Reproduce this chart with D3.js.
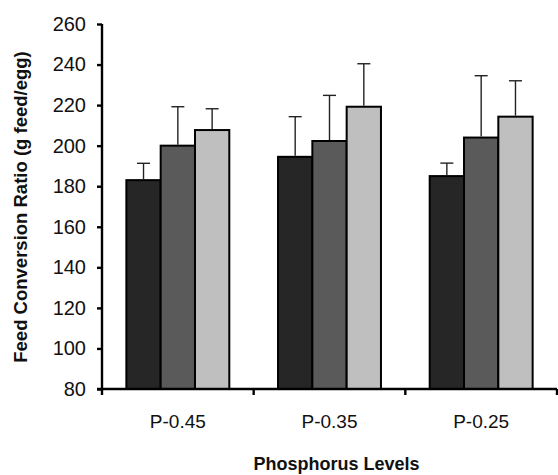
<!DOCTYPE html>
<html>
<head>
<meta charset="utf-8">
<script src="https://cdn.jsdelivr.net/npm/d3@7"></script>
<style>
  body { margin: 0; background: #fff; }
  text { font-family: "Liberation Sans", Arial, sans-serif; }
</style>
</head>
<body>
<svg id="chart"></svg>
<script>
// data
const levels = ["P-0.45", "P-0.35", "P-0.25"];
const groups = ["A", "B", "C"];
const meansA = [183, 194.5, 185];
const meansB = [200, 202.3, 204];
const meansC = [207.7, 219.2, 214.3];
const errA = [8.3, 19.8, 6.4];
const errB = [19.2, 22.5, 30.5];
const errC = [10.5, 21.2, 17.7];
const yTicks = [80, 100, 120, 140, 160, 180, 200, 220, 240, 260];

const width = 558;
const height = 475;
const colors = { A: "#262626", B: "#5a5a5a", C: "#bfbfbf" };

const svg = d3.select("#chart")
    .attr("width", width)
    .attr("height", height);

const plotLeft = 102, plotRight = 557, plotTop = 24, plotBottom = 389;

const means = { A: meansA, B: meansB, C: meansC };
const errs = { A: errA, B: errB, C: errC };

const rows = [];
levels.forEach((lv, i) => {
    groups.forEach(g => rows.push({ level: lv, group: g, value: means[g][i], err: errs[g][i] }));
});

const x0 = d3.scaleBand().domain(levels).range([plotLeft, plotRight]).padding(0);
const x1 = d3.scaleBand().domain(groups).range([0, x0.bandwidth()])
    .paddingInner(0).paddingOuter(0.71);
const y = d3.scaleLinear().domain([80, 260]).range([plotBottom, plotTop]);

// bars
svg.append("g").selectAll("rect")
    .data(rows)
    .enter()
    .append("rect")
    .attr("x", d => x0(d.level) + x1(d.group))
    .attr("y", d => y(d.value))
    .attr("width", x1.bandwidth())
    .attr("height", d => plotBottom - y(d.value))
    .attr("fill", d => colors[d.group])
    .attr("stroke", "#000")
    .attr("stroke-width", 2);

// error bars (upper only)
const eb = svg.append("g").attr("stroke", "#222").attr("stroke-width", 1.4);
rows.forEach(d => {
    const cx = x0(d.level) + x1(d.group) + x1.bandwidth() / 2;
    eb.append("line")
        .attr("x1", cx).attr("x2", cx)
        .attr("y1", y(d.value) - 1).attr("y2", y(d.value + d.err));
    eb.append("line")
        .attr("x1", cx - 6.5).attr("x2", cx + 6.5)
        .attr("y1", y(d.value + d.err)).attr("y2", y(d.value + d.err));
});

// y axis
const yAxis = svg.append("g")
    .attr("transform", `translate(${plotLeft},0)`)
    .call(d3.axisLeft(y).tickValues(yTicks).tickSize(5).tickPadding(11));
yAxis.select(".domain").attr("stroke", "#000").attr("stroke-width", 2.4)
    .attr("d", `M0,${plotTop}V${plotBottom}`);
yAxis.selectAll(".tick line").attr("stroke", "#000").attr("stroke-width", 2.4);
yAxis.selectAll(".tick text").attr("font-size", "20px").attr("fill", "#111")
    .attr("font-family", "Liberation Sans, Arial, sans-serif");

// x axis
const xAxis = svg.append("g")
    .attr("transform", `translate(0,${plotBottom})`)
    .call(d3.axisBottom(x0).tickSize(0).tickPadding(26));
xAxis.select(".domain").attr("stroke", "#000").attr("stroke-width", 2.4)
    .attr("d", `M${plotLeft - 5},0H${plotRight}`);
xAxis.selectAll(".tick text").attr("font-size", "19px").attr("fill", "#111")
    .attr("font-family", "Liberation Sans, Arial, sans-serif");

// tick marks at the band edges
const edges = levels.map(l => x0(l)).concat([plotRight]);
xAxis.selectAll(".edge")
    .data(edges)
    .enter()
    .append("line")
    .attr("class", "edge")
    .attr("x1", d => d).attr("x2", d => d)
    .attr("y1", 0).attr("y2", 6)
    .attr("stroke", "#000")
    .attr("stroke-width", 2.4);

// axis titles
svg.append("text")
    .attr("transform", "translate(26.5,207) rotate(-90)")
    .attr("text-anchor", "middle")
    .attr("font-size", "18.5px")
    .attr("font-weight", "bold")
    .attr("fill", "#111")
    .text("Feed Conversion Ratio (g feed/egg)");

svg.append("text")
    .attr("x", 336.5)
    .attr("y", 470)
    .attr("text-anchor", "middle")
    .attr("font-size", "18px")
    .attr("font-weight", "bold")
    .attr("fill", "#111")
    .text("Phosphorus Levels");
</script>
</body>
</html>
